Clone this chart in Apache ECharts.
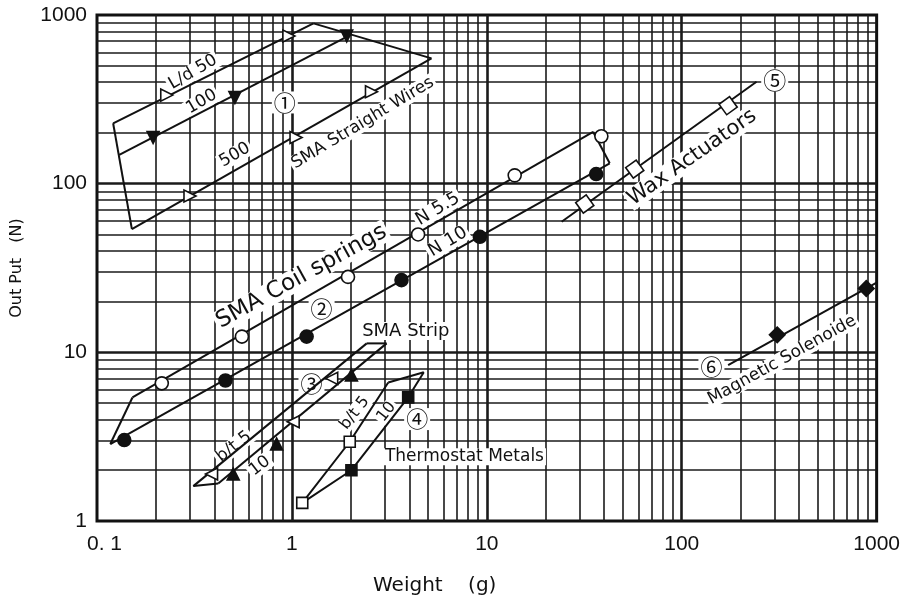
<!DOCTYPE html>
<html>
<head>
<meta charset="utf-8">
<title>Output vs weight of actuators</title>
<script src="https://cdn.jsdelivr.net/npm/echarts@6/dist/echarts.min.js"></script>
<style>
  html, body { margin: 0; padding: 0; background: #fff; }
  #chart { width: 903px; height: 600px; }
</style>
</head>
<body>
<div id="chart"></div>
<script>
// ---- axis ticks -------------------------------------------------------
const xTickLabels = ['0. 1', '1', '10', '100', '1000'];
const yTickLabels = ['1', '10', '100', '1000'];

// ---- (1) SMA straight wires : [weight g, output N] -------------------
const wireL50 = [[0.228, 335], [0.965, 750]];
const wireL100 = [[0.194, 188], [0.510, 324], [1.91, 751]];
const wireL500 = [[0.300, 84.5], [1.05, 188], [2.56, 351]];
const wireL50Ends = [[0.121, 228], [1.29, 892]];
const wireL100Ends = [[0.130, 148], [2.01, 765]];
const wireL500Ends = [[0.151, 53.8], [5.20, 553]];

// ---- (2) SMA coil springs --------------------------------------------
const coilN55 = [[0.215, 6.55], [0.554, 12.4], [1.94, 28.0], [4.44, 50.0], [13.9, 112], [38.7, 191]];
const coilN10 = [[0.138, 3.02], [0.456, 6.81], [1.19, 12.4], [3.65, 26.8], [9.21, 48.4], [36.4, 114]];
const coilN55Ends = [[0.152, 5.40], [35.1, 203]];
const coilN10Ends = [[0.117, 2.86], [42.7, 132]];

// ---- (3) SMA strip ----------------------------------------------------
const stripB5 = [[0.387, 1.90], [1.015, 3.88], [1.60, 7.01]];
const stripB10 = [[0.50, 1.90], [0.835, 2.86], [2.02, 7.34]];
const stripB5Ends = [[0.312, 1.61], [2.42, 11.3]];
const stripB10Ends = [[0.419, 1.67], [3.06, 11.3]];

// ---- (4) thermostat metals -------------------------------------------
const thermoB5 = [[1.13, 1.28], [1.98, 2.95]];
const thermoB10 = [[2.02, 2.00], [3.95, 5.41]];
const thermoB5Top = [3.12, 6.62];
const thermoB10Top = [4.75, 7.62];

// ---- (5) wax actuators -----------------------------------------------
const wax = [[31.8, 75.7], [57.4, 122], [173, 290]];
const waxEnds = [[24.2, 59.5], [242, 402]];

// ---- (6) magnetic solenoid -------------------------------------------
const solenoid = [[309, 12.7], [885, 23.9]];
const solenoidEnds = [[173, 8.41], [1000, 25.9]];

// ---- annotations: [weight, output, text, rotation deg, font px] -----
const notes = [
  [0.311, 459, 'L/d 50', 30, 17],
  [0.344, 306, '100', 30, 17],
  [0.510, 148, '500', 30, 17],
  [0.920, 303, '\u2460', 0, 22],
  [2.31, 229, 'SMA Straight Wires', 31, 17],
  [1.12, 28.1, 'SMA Coil springs', 29, 23],
  [5.61, 70.7, 'N 5.5', 31, 18],
  [6.31, 45.1, 'N 10', 31, 18],
  [1.42, 18.2, '\u2461', 0, 22],
  [3.84, 13.4, 'SMA Strip', 0, 18],
  [1.26, 6.55, '\u2462', 0, 22],
  [0.504, 2.76, 'b/t 5', 38, 17],
  [0.685, 2.12, '10', 38, 17],
  [2.10, 4.37, 'b/t 5', 52, 16],
  [3.06, 4.43, '10', 52, 16],
  [4.39, 4.02, '\u2463', 0, 22],
  [113, 143, 'Wax Actuators', 35, 21],
  [300, 411, '\u2464', 0, 23],
  [327, 9.0, 'Magnetic Solenoide', 29, 17],
  [142, 8.22, '\u2465', 0, 22]
];
const leftNotes = [[2.93, 2.40, 'Thermostat Metals', 0, 17]];

// ---- grid lines of the log paper -------------------------------------
function decadeLines(lo, hi) {
  const minor = [], major = [];
  for (let d = lo; d < hi; d *= 10) {
    if (d > lo) major.push(d);
    for (let k = 2; k <= 9; k++) minor.push(+(d * k).toPrecision(3));
  }
  return { minor, major };
}
const xLines = decadeLines(0.1, 1000);
const yLines = decadeLines(1, 1000);

const INK = '#111';
const LABEL_FONT = '"DejaVu Sans", sans-serif';
const CIRCLED_FONT = '"Noto Sans CJK JP", "DejaVu Sans", sans-serif';

function gridSeries() {
  const line = (w) => ({ color: '#1a1a1a', width: w, type: 'solid', opacity: 1 });
  const data = [];
  xLines.minor.forEach(v => data.push({ xAxis: v, lineStyle: line(1.6) }));
  yLines.minor.forEach(v => data.push({ yAxis: v, lineStyle: line(1.6) }));
  xLines.major.forEach(v => data.push({ xAxis: v, lineStyle: line(2.6) }));
  yLines.major.forEach(v => data.push({ yAxis: v, lineStyle: line(2.6) }));
  return {
    type: 'line', name: 'paper', data: [], z: 1, silent: true,
    markLine: {
      z: 1, silent: true, symbol: ['none', 'none'], animation: false,
      label: { show: false }, emphasis: { disabled: true },
      data
    }
  };
}

function path(name, pts, width) {
  return {
    type: 'line', name, data: pts, z: 3, silent: true,
    symbol: 'none', showSymbol: false, animation: false,
    lineStyle: { color: INK, width: width || 2 }
  };
}

function marks(name, pts, symbol, filled, rotate, size) {
  return {
    type: 'scatter', name, data: pts, z: 4, silent: true, animation: false,
    symbol, symbolRotate: rotate || 0, symbolSize: size || 12,
    itemStyle: { color: filled ? INK : '#fff', borderColor: INK, borderWidth: 1.6, opacity: 1 }
  };
}

function noteSeries(list, align) {
  return {
    type: 'scatter', name: 'notes-' + align, z: 2, silent: true, animation: false,
    symbolSize: 0,
    itemStyle: { opacity: 1 },
    data: list.map(n => {
      const circled = /[\u2460-\u2473]/.test(n[2]);
      return {
        value: [n[0], n[1]],
        label: {
          show: true, position: 'inside', formatter: n[2], rotate: n[3],
          fontSize: n[4], align,
          verticalAlign: 'middle',
          fontFamily: circled ? CIRCLED_FONT : LABEL_FONT,
          color: INK, opacity: 1, backgroundColor: '#fff', padding: [0, 2]
        }
      };
    })
  };
}

const series = [
  gridSeries(),
  noteSeries(notes, 'center'),
  noteSeries(leftNotes, 'left'),

  // (1) straight wires and their frame
  path('L/d 50', wireL50Ends),
  path('L/d 100', wireL100Ends),
  path('L/d 500', wireL500Ends),
  path('wire frame top', [wireL50Ends[1], wireL500Ends[1]]),
  path('wire frame left', [wireL50Ends[0], wireL500Ends[0]]),
  marks('L/d 50 pts', wireL50, 'triangle', false, -90, 12),
  marks('L/d 100 pts', wireL100, 'triangle', true, 180, 12),
  marks('L/d 500 pts', wireL500, 'triangle', false, -90, 12),

  // (2) coil springs
  path('N 5.5', coilN55Ends),
  path('N 10', coilN10Ends),
  path('coil frame left', [coilN10Ends[0], coilN55Ends[0]]),
  path('coil frame right', [coilN55Ends[1], coilN10Ends[1]]),
  marks('N 5.5 pts', coilN55, 'circle', false, 0, 13),
  marks('N 10 pts', coilN10, 'circle', true, 0, 13),

  // (3) strip
  path('strip b/t 5', stripB5Ends),
  path('strip b/t 10', stripB10Ends),
  path('strip frame bottom', [stripB5Ends[0], stripB10Ends[0]]),
  path('strip frame top', [stripB5Ends[1], stripB10Ends[1]]),
  marks('strip b/t 5 pts', stripB5, 'triangle', false, 90, 12),
  marks('strip b/t 10 pts', stripB10, 'triangle', true, 0, 12),

  // (4) thermostat metals
  path('thermo b/t 5', thermoB5.concat([thermoB5Top])),
  path('thermo b/t 10', [thermoB5[0]].concat(thermoB10, [thermoB10Top])),
  path('thermo frame top', [thermoB5Top, thermoB10Top]),
  marks('thermo b/t 5 pts', thermoB5, 'rect', false, 0, 11),
  marks('thermo b/t 10 pts', thermoB10, 'rect', true, 0, 11),

  // (5) wax actuators
  path('wax', waxEnds),
  marks('wax pts', wax, 'rect', false, 36, 13),

  // (6) magnetic solenoid
  path('solenoid', solenoidEnds),
  marks('solenoid pts', solenoid, 'rect', true, 45, 11)
];

const chart = echarts.init(document.getElementById('chart'), null, { renderer: 'canvas' });
chart.setOption({
  animation: false,
  backgroundColor: '#fff',
  grid: {
    left: 97, right: 26, top: 15, bottom: 79,
    show: true, borderColor: INK, borderWidth: 3, backgroundColor: 'transparent'
  },
  xAxis: {
    type: 'log', logBase: 10, min: 0.1, max: 1000,
    axisLine: { show: false }, axisTick: { show: false }, splitLine: { show: false },
    axisLabel: {
      margin: 13, color: INK, fontSize: 21, fontFamily: '"Liberation Sans", Arial, sans-serif',
      formatter: (v, i) => i === 0 ? '{first|' + xTickLabels[0] + '}' : xTickLabels[i],
      rich: { first: { padding: [0, 0, 0, 15], fontSize: 21, color: INK, fontFamily: '"Liberation Sans", Arial, sans-serif' } }
    }
  },
  yAxis: {
    type: 'log', logBase: 10, min: 1, max: 1000,
    axisLine: { show: false }, axisTick: { show: false }, splitLine: { show: false },
    axisLabel: {
      margin: 10, color: INK, fontSize: 21, fontFamily: '"Liberation Sans", Arial, sans-serif',
      formatter: (v, i) => yTickLabels[i]
    }
  },
  graphic: [
    {
      type: 'text', x: 16.5, y: 268, rotation: Math.PI / 2, silent: true,
      style: { text: 'Out Put   (N)', font: '16px "DejaVu Sans", sans-serif', fill: INK, align: 'center', verticalAlign: 'middle' }
    },
    {
      type: 'text', x: 373, y: 586, silent: true,
      style: { text: 'Weight    (g)', font: '20px "DejaVu Sans", sans-serif', fill: INK, align: 'left', verticalAlign: 'middle' }
    }
  ],
  series
});
</script>
</body>
</html>
